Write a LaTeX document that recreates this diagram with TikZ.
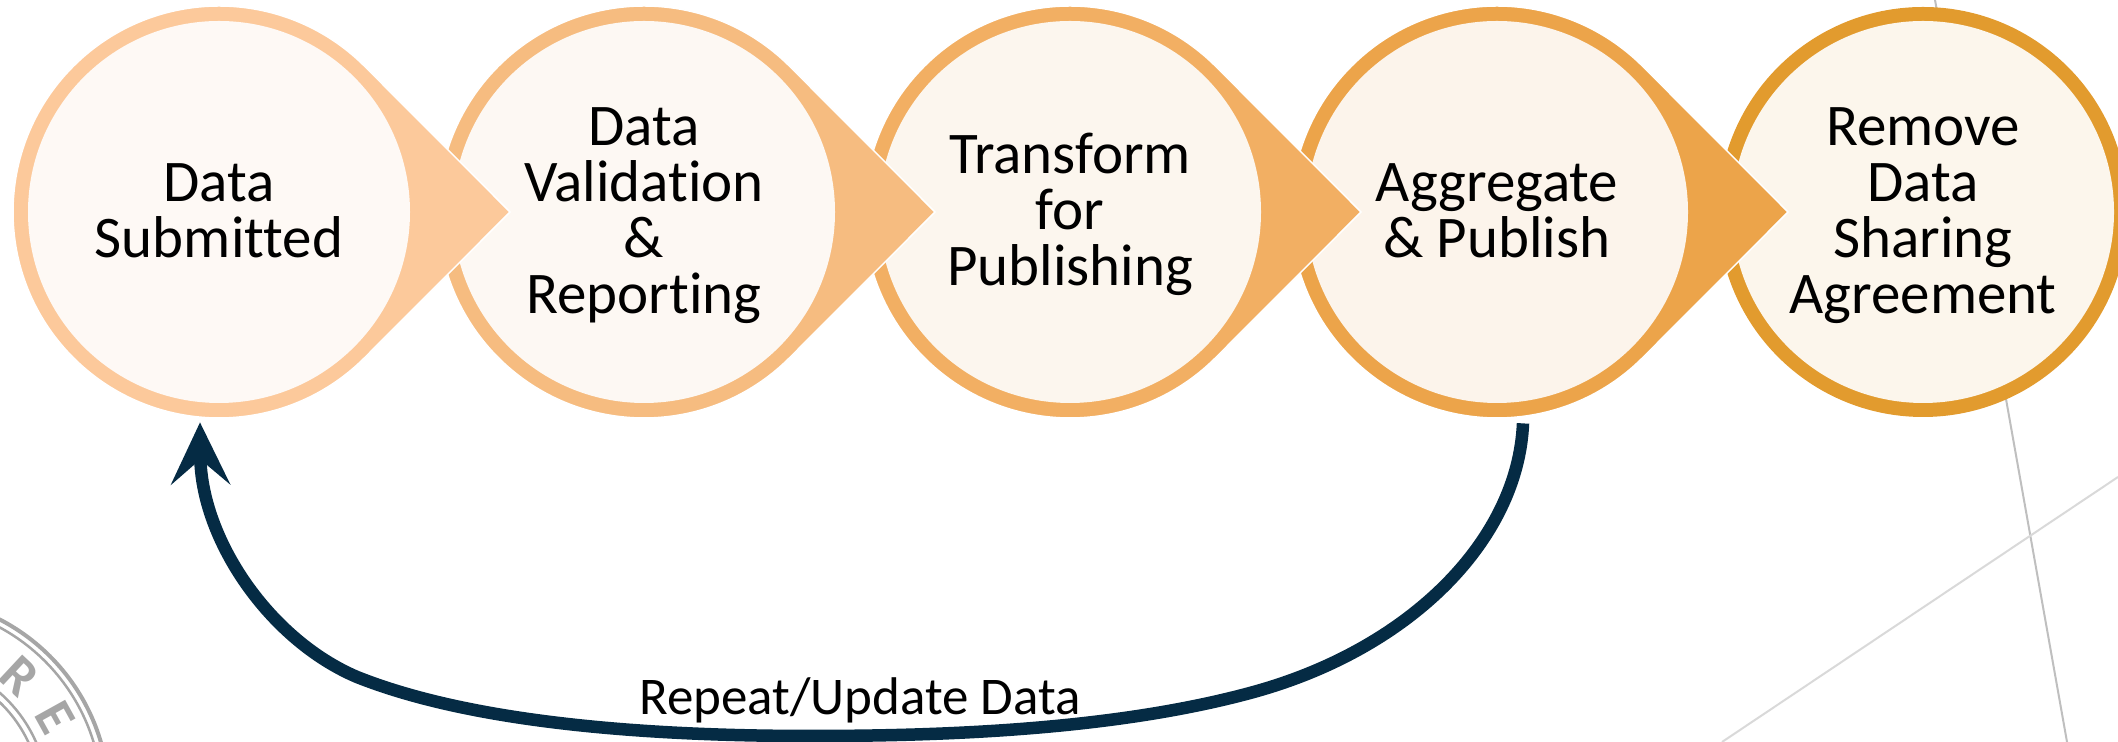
\documentclass[tikz,border=0pt]{standalone}
\usepackage{fontspec}
\setmainfont{Carlito}[Ligatures=NoCommon]
\usetikzlibrary{arrows.meta}
\lineskiplimit=-20pt
\normallineskiplimit=-20pt
\definecolor{ringA}{HTML}{FCC99B}
\definecolor{ringB}{HTML}{F6BC80}
\definecolor{ringC}{HTML}{F2AF63}
\definecolor{ringD}{HTML}{ECA44A}
\definecolor{ringE}{HTML}{E29B2E}
\definecolor{fillA}{HTML}{FEF9F5}
\definecolor{fillB}{HTML}{FDF8F3}
\definecolor{fillC}{HTML}{FCF6EE}
\definecolor{fillD}{HTML}{FCF4EB}
\definecolor{fillE}{HTML}{FCF6EC}
\definecolor{loopblue}{HTML}{052B44}
\tikzset{
  stepcircle/.style={circle,inner sep=0pt,minimum size=191pt,align=center,
    font=\fontsize{29.5}{28}\selectfont},
  stamp/.style={draw=black!35},
  stampletter/.style={text=black!35,font=\fontsize{27}{27}\selectfont\bfseries}
}
% keeps every line of a circle at the same height
\newcommand{\lh}{\rule[-5pt]{0pt}{28pt}}
% outer ring with its pointed side
\newcommand{\tearshape}[2]{%
  \filldraw[fill=#2,draw=white,line width=0.75pt] (#1,530) ++(45:206)
    arc[start angle=45,end angle=315,radius=206] -- (#1+291,530) -- cycle;
}
\begin{document}
\begin{tikzpicture}[x=0.5pt,y=0.5pt]
\useasboundingbox (0,0) rectangle (2118,742);

% lines behind the circles
\draw[black!25,line width=1pt] (1935,742) -- (2067,0);
\draw[black!15,line width=1pt] (1722,0) -- (2118,265);

% the stamp in the corner
\coordinate (seal) at (-93,-57);
\draw[stamp,line width=2pt] (seal) circle (202);
\draw[stamp,line width=1.25pt] (seal) circle (195);
\draw[stamp,line width=1.25pt] (seal) circle (141);
\draw[stamp,line width=1.25pt] (seal) circle (134);
\node[stampletter,rotate=-43] (sealr) at (20,66) {R};
\node[stampletter,rotate=-61] (seale) at (55,24) {E};

\fill[ringE] (1923,530) circle (205);
\node[stepcircle,fill=fillE] (remove) at (1923,530) {\lh Remove\\\lh Data\\\lh Sharing\\\lh Agreement};
\tearshape{1497}{ringD}
\node[stepcircle,fill=fillD] (aggregate) at (1497,530) {\lh Aggregate\\\lh \& Publish};
\tearshape{1070}{ringC}
\node[stepcircle,fill=fillC] (transform) at (1070,530) {\lh Transform\\\lh for\\\lh Publishing};
\tearshape{644}{ringB}
\node[stepcircle,fill=fillB] (validate) at (644,530) {\lh Data\\\lh Validation\\\lh \&\\\lh Reporting};
\tearshape{219}{ringA}
\node[stepcircle,fill=fillA] (submitted) at (219,530) {\lh Data\\\lh Submitted};

\coordinate (leave) at ([shift={(26,-20)}]aggregate.south);
\coordinate (back) at ([shift={(-19,-19)}]submitted.south);

\draw[loopblue,line width=6.25pt,-{Stealth[length=31pt,width=29.5pt,inset=12.5pt]}] (leave)
    .. controls (1518,202) and (1410,92) .. (1250,49)
    .. controls (1120,14) and (960,6) .. (811,6)
    .. controls (640,6) and (470,20) .. (357,65)
    .. controls (270,102) and (201,202) .. (back);

\node[anchor=base,font=\fontsize{26.5}{26.5}\selectfont] (repeat) at (860,27) {Repeat/Update Data};
\end{tikzpicture}
\end{document}
